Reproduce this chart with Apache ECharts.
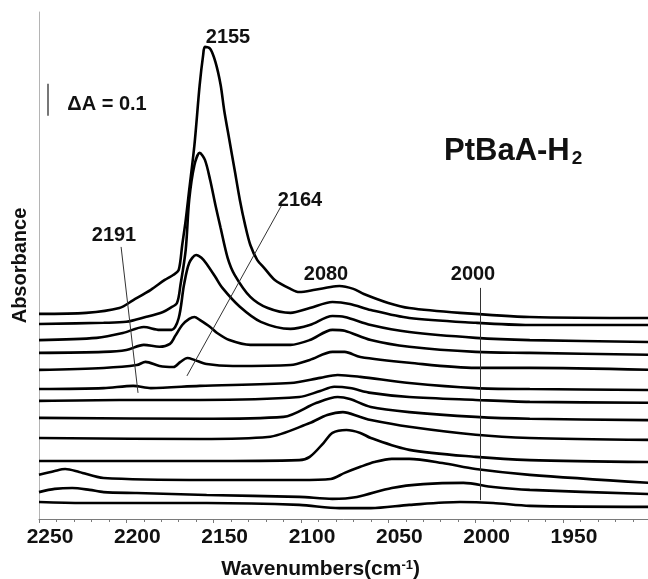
<!DOCTYPE html>
<html><head><meta charset="utf-8">
<script src="https://cdn.jsdelivr.net/npm/echarts@6/dist/echarts.min.js"></script>
<style>html,body{margin:0;padding:0;background:#fff}#c{width:648px;height:579px}</style>
</head><body><div id="c"></div>
<script>
// x: wavenumber (cm-1), y: absorbance (stacked spectra, offsets included)
const spectrum01 = [[2250,0.641],[2223,0.644],[2204,0.659],[2196,0.684],[2186,0.716],[2178,0.747],[2173,0.763],[2170,0.778],[2168,0.856],[2166,0.934],[2164,1.028],[2161,1.169],[2158,1.356],[2156,1.450],[2155,1.475],[2152,1.469],[2149,1.428],[2146,1.356],[2144,1.278],[2141,1.184],[2138,1.091],[2135,0.997],[2132,0.919],[2129,0.856],[2125,0.809],[2121,0.784],[2115,0.747],[2106,0.719],[2101,0.709],[2092,0.716],[2083,0.725],[2078,0.728],[2070,0.719],[2064,0.703],[2050,0.675],[2038,0.659],[2009,0.644],[1969,0.631],[1900,0.628]];
const spectrum02 = [[2250,0.609],[2213,0.613],[2200,0.616],[2189,0.631],[2179,0.647],[2175,0.659],[2171,0.675],[2169,0.731],[2166,0.841],[2164,0.997],[2161,1.106],[2158,1.144],[2155,1.122],[2152,1.059],[2149,0.981],[2146,0.909],[2142,0.816],[2138,0.763],[2129,0.694],[2119,0.659],[2106,0.644],[2095,0.659],[2082,0.678],[2072,0.672],[2060,0.653],[2038,0.628],[2000,0.613],[1969,0.606],[1900,0.606]];
const spectrum03 = [[2250,0.559],[2217,0.566],[2202,0.581],[2190,0.600],[2181,0.591],[2174,0.591],[2170,0.628],[2167,0.731],[2164,0.800],[2160,0.825],[2157,0.816],[2154,0.797],[2149,0.756],[2145,0.722],[2135,0.663],[2123,0.616],[2106,0.594],[2095,0.606],[2082,0.634],[2075,0.631],[2060,0.606],[2038,0.584],[2000,0.566],[1969,0.559],[1900,0.553]];
const spectrum04 = [[2250,0.519],[2213,0.522],[2200,0.528],[2190,0.544],[2181,0.538],[2175,0.547],[2172,0.572],[2168,0.606],[2164,0.625],[2161,0.631],[2158,0.622],[2152,0.600],[2148,0.581],[2141,0.559],[2129,0.544],[2106,0.544],[2095,0.559],[2082,0.591],[2075,0.588],[2060,0.559],[2038,0.538],[2000,0.522],[1969,0.519],[1900,0.513]];
const spectrum05 = [[2250,0.466],[2213,0.472],[2194,0.481],[2189,0.491],[2181,0.478],[2173,0.475],[2169,0.491],[2165,0.503],[2161,0.497],[2154,0.484],[2139,0.478],[2106,0.481],[2095,0.497],[2082,0.522],[2075,0.522],[2066,0.506],[2038,0.488],[2000,0.472],[1969,0.472],[1900,0.466]];
const spectrum06 = [[2250,0.406],[2213,0.409],[2196,0.416],[2186,0.409],[2158,0.416],[2106,0.425],[2089,0.441],[2079,0.450],[2066,0.444],[2038,0.425],[2000,0.409],[1969,0.406],[1900,0.403]];
const spectrum07 = [[2250,0.369],[2204,0.372],[2158,0.372],[2101,0.381],[2089,0.400],[2081,0.413],[2072,0.409],[2060,0.394],[2038,0.381],[2000,0.372],[1969,0.366],[1900,0.363]];
const spectrum08 = [[2250,0.316],[2158,0.313],[2110,0.319],[2091,0.363],[2079,0.381],[2072,0.375],[2060,0.350],[2038,0.334],[2000,0.319],[1969,0.313],[1900,0.309]];
const spectrum09 = [[2250,0.253],[2158,0.250],[2119,0.256],[2095,0.300],[2085,0.325],[2076,0.334],[2066,0.319],[2060,0.309],[2038,0.288],[2000,0.263],[1969,0.253],[1900,0.247]];
const spectrum10 = [[2250,0.181],[2158,0.181],[2101,0.184],[2095,0.194],[2087,0.238],[2082,0.269],[2074,0.278],[2066,0.269],[2060,0.253],[2038,0.216],[2000,0.194],[1969,0.184],[1900,0.178]];
const spectrum11 = [[2250,0.138],[2241,0.150],[2235,0.156],[2227,0.147],[2213,0.128],[2154,0.122],[2101,0.122],[2083,0.125],[2075,0.144],[2066,0.163],[2058,0.178],[2048,0.188],[2038,0.188],[2019,0.175],[2000,0.156],[1969,0.138],[1900,0.113]];
const spectrum12 = [[2250,0.084],[2241,0.094],[2231,0.097],[2221,0.091],[2213,0.084],[2194,0.081],[2154,0.075],[2101,0.069],[2082,0.063],[2068,0.069],[2048,0.097],[2030,0.109],[2007,0.113],[1990,0.100],[1969,0.091],[1900,0.078]];
const spectrum13 = [[2250,0.053],[2225,0.050],[2154,0.050],[2101,0.044],[2078,0.034],[2060,0.034],[2038,0.044],[2009,0.053],[1990,0.050],[1969,0.041],[1900,0.038]];
const spectra = [spectrum01,spectrum02,spectrum03,spectrum04,spectrum05,spectrum06,spectrum07,spectrum08,spectrum09,spectrum10,spectrum11,spectrum12,spectrum13];

const xTicks = {min:1900, max:2250, step:50};
const scaleBar = [[2245,1.26],[2245,1.36]];           // ΔA = 0.1
const pointer2191 = [[2203,0.850],[2193.3,0.394]];
const pointer2164 = [[2111,0.981],[2165.3,0.447]];
const marker2000 = [[1997.5,0.722],[1997.5,0.059]];

const FONT = '"Liberation Sans", Arial, sans-serif';
const chart = echarts.init(document.getElementById('c'), null, {renderer:'canvas'});

const series = spectra.map((d,i)=>({
  type:'line', data:d, showSymbol:false, smooth:0.3, animation:false,
  lineStyle:{color:'#000', width:2.6}, silent:true, z:2
}));
series.push({
  type:'line', data:[], animation:false, silent:true,
  markLine:{
    symbol:'none', silent:true, animation:false, label:{show:false},
    lineStyle:{color:'#333', width:1, type:'solid'},
    data:[
      [{coord:pointer2191[0]},{coord:pointer2191[1]}],
      [{coord:pointer2164[0]},{coord:pointer2164[1]}],
      [{coord:marker2000[0]},{coord:marker2000[1]}],
      [{coord:scaleBar[0], lineStyle:{color:'#777', width:2}},{coord:scaleBar[1]}]
    ]
  }
});

function txt(text, x, y, size){
  return {type:'text', x:x, y:y, silent:true, z:10,
    style:{text:text, font:'bold '+size+'px '+FONT, fill:'#111',
      textAlign:'center', textVerticalAlign:'middle', align:'center', verticalAlign:'middle'}};
}

chart.setOption({
  animation:false,
  backgroundColor:'#fff',
  grid:{left:39, top:12, width:611.3, height:507, containLabel:false, outerBoundsMode:'none'},
  xAxis:{
    type:'value', inverse:true, min:xTicks.min, max:xTicks.max, interval:xTicks.step,
    axisLine:{show:true, lineStyle:{color:'#7a7a7a', width:1}},
    axisTick:{show:true, length:4, lineStyle:{color:'#7a7a7a'}},
    minorTick:{show:true, splitNumber:5, length:3, lineStyle:{color:'#7a7a7a'}},
    splitLine:{show:false}, minorSplitLine:{show:false},
    axisLabel:{showMinLabel:false, formatter:v=>String(v), fontSize:21, fontWeight:'bold', color:'#111', fontFamily:FONT, margin:8, padding:[0,0,0,22]},
    name:'{t|Wavenumbers(cm}{s|-1}{t|)}', nameLocation:'middle', nameGap:40,
    nameTextStyle:{padding:[0,48,0,0], rich:{
      t:{fontSize:21, fontWeight:'bold', color:'#111', fontFamily:FONT},
      s:{fontSize:13, fontWeight:'bold', color:'#111', fontFamily:FONT, verticalAlign:'top', padding:[0,0,8,0]}
    }}
  },
  yAxis:{
    type:'value', min:0, max:1.584,
    axisLine:{show:true, lineStyle:{color:'#b4b4b4', width:1}},
    axisTick:{show:false}, axisLabel:{show:false}, splitLine:{show:false},
    name:'Absorbance', nameLocation:'middle', nameRotate:90, nameGap:9,
    nameTextStyle:{fontSize:20, fontWeight:'bold', color:'#111', fontFamily:FONT}
  },
  series:series,
  graphic:[
    txt('2155',228,37,20),
    txt('2191',114,235,20),
    txt('2164',300,200,20),
    txt('2080',326,274,20),
    txt('2000',473,274,20),
    txt('ΔA = 0.1',107,104,20),
    {type:'text', x:444, y:151, silent:true, z:10,
     style:{text:'{a|PtBaA-H}{b|2}', fill:'#111', textVerticalAlign:'middle', verticalAlign:'middle',
       rich:{a:{font:'bold 31px '+FONT, fill:'#111'}, b:{font:'bold 19px '+FONT, fill:'#111', padding:[16,0,0,2]}}}}
  ]
});
</script></body></html>
